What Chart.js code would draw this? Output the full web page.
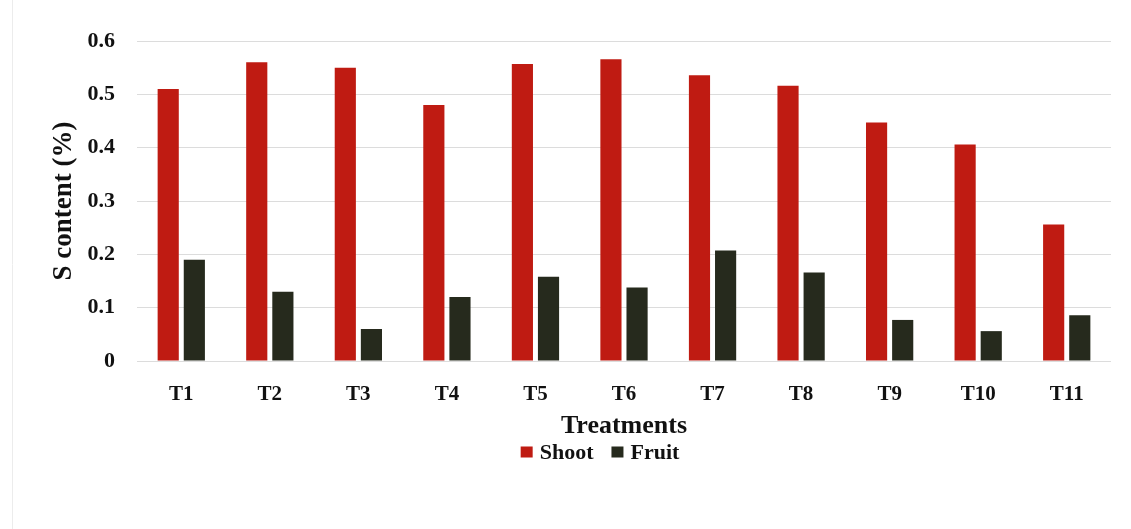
<!DOCTYPE html>
<html>
<head>
<meta charset="utf-8">
<script src="https://cdn.jsdelivr.net/npm/chart.js@4/dist/chart.umd.min.js"></script>
<style>
  html, body { margin: 0; padding: 0; background: #ffffff; }
  #wrap { width: 1131px; height: 529px; position: relative; }
</style>
</head>
<body>
<div id="wrap"><canvas id="chart" width="1131" height="529"></canvas></div>
<script>
// Sulphur content per treatment
const treatments = ['T1', 'T2', 'T3', 'T4', 'T5', 'T6', 'T7', 'T8', 'T9', 'T10', 'T11'];
const shootValues = [0.51, 0.56, 0.55, 0.48, 0.557, 0.566, 0.536, 0.516, 0.447, 0.406, 0.256];
const fruitValues = [0.19, 0.13, 0.06, 0.12, 0.158, 0.138, 0.207, 0.166, 0.077, 0.056, 0.086];
const yTicks = [0, 0.1, 0.2, 0.3, 0.4, 0.5, 0.6];

const fontFamily = '"Liberation Serif", "Times New Roman", serif';
const serifBold = { family: fontFamily, weight: 'bold' };

// faint frame line on the left edge of the figure
const edgeLine = {
  id: 'edgeLine',
  beforeDraw(chart) {
    const ctx = chart.ctx;
    ctx.save();
    ctx.strokeStyle = '#ececec';
    ctx.lineWidth = 1;
    ctx.beginPath();
    ctx.moveTo(12.5, 0);
    ctx.lineTo(12.5, chart.height);
    ctx.stroke();
    ctx.restore();
  }
};

// compact legend row under the axis title, built from the datasets
const compactLegend = {
  id: 'compactLegend',
  afterDraw(chart, args, opts) {
    const ctx = chart.ctx;
    const sets = chart.data.datasets;
    ctx.save();
    ctx.font = 'bold ' + opts.fontSize + 'px ' + fontFamily;
    ctx.textBaseline = 'middle';
    ctx.textAlign = 'left';
    const widths = sets.map(d => opts.box + opts.textGap + ctx.measureText(d.label).width);
    const total = widths.reduce((a, b) => a + b, 0) + opts.itemGap * (sets.length - 1);
    let x = opts.centerX - total / 2;
    sets.forEach((d, i) => {
      ctx.fillStyle = d.backgroundColor;
      ctx.fillRect(x, opts.y - opts.boxH / 2, opts.box, opts.boxH);
      ctx.fillStyle = '#111111';
      ctx.fillText(d.label, x + opts.box + opts.textGap, opts.y + 1);
      x += widths[i] + opts.itemGap;
    });
    ctx.restore();
  }
};

new Chart(document.getElementById('chart'), {
  type: 'bar',
  data: {
    labels: treatments,
    datasets: [
      { label: 'Shoot', data: shootValues, backgroundColor: '#bf1b12', borderWidth: 0 },
      { label: 'Fruit', data: fruitValues, backgroundColor: '#262a1d', borderWidth: 0 }
    ]
  },
  plugins: [edgeLine, compactLegend],
  options: {
    responsive: false,
    animation: false,
    datasets: { bar: { categoryPercentage: 0.59, barPercentage: 0.81 } },
    layout: { padding: { left: 38, right: 20, top: 41, bottom: 92 } },
    plugins: {
      tooltip: { enabled: false },
      legend: { display: false },
      compactLegend: { centerX: 600, y: 452, fontSize: 22, box: 12, boxH: 11, textGap: 7, itemGap: 18 }
    },
    scales: {
      x: {
        afterFit(scale) { scale.height = 76; },
        grid: { display: false, drawTicks: false },
        border: { display: false },
        ticks: { color: '#111111', font: { ...serifBold, size: 21 }, padding: 21 },
        title: {
          display: true,
          text: 'Treatments',
          color: '#111111',
          font: { ...serifBold, size: 26 },
          padding: { top: 0, bottom: -5 }
        }
      },
      y: {
        min: 0,
        max: 0.6,
        afterFit(scale) { scale.width = 99; },
        afterBuildTicks(scale) { scale.ticks = yTicks.map(v => ({ value: v })); },
        grid: { color: '#dcdcdc', drawTicks: false, lineWidth: 1 },
        border: { display: false },
        ticks: {
          color: '#111111',
          font: { ...serifBold, size: 22 },
          padding: 22,
          callback: v => String(Math.round(v * 10) / 10)
        },
        title: {
          display: true,
          text: 'S content (%)',
          color: '#111111',
          font: { ...serifBold, size: 27 },
          padding: { top: 10, bottom: 0 }
        }
      }
    }
  }
});
</script>
</body>
</html>
